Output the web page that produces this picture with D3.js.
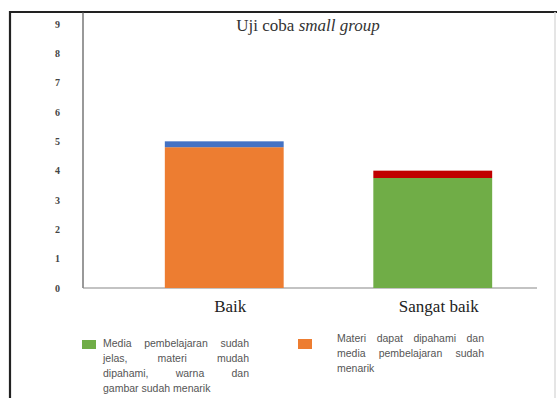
<!DOCTYPE html>
<html>
<head>
<meta charset="utf-8">
<script src="https://cdn.jsdelivr.net/npm/d3@7"></script>
<style>
  html, body { margin: 0; padding: 0; background: #fff; }
  svg { display: block; }
</style>
</head>
<body>
<svg id="chart" width="558" height="398"></svg>
<script>
// ---- data ----
const categories = ["Baik", "Sangat baik"];
const orangeValues = [4.8, 0];
const greenValues  = [0, 3.75];
const blueValues   = [0.2, 0];
const redValues    = [0, 0.25];
const yTicks = [0, 1, 2, 3, 4, 5, 6, 7, 8, 9];
const titleMain = "Uji coba ";
const titleItalic = "small group";
const legendGreenLines = ["Media pembelajaran sudah", "jelas, materi mudah", "dipahami, warna dan", "gambar sudah menarik"];
const legendOrangeLines = ["Materi dapat dipahami dan", "media pembelajaran sudah", "menarik"];

const colors = { orange: "#ED7D31", green: "#70AD47", blue: "#4472C4", red: "#C00000" };

const svg = d3.select("#chart");

// frame
svg.append("line").attr("x1", 10).attr("x2", 10).attr("y1", 11).attr("y2", 398)
  .attr("stroke", "#222").attr("stroke-width", 2.2);
svg.append("line").attr("x1", 9).attr("x2", 557).attr("y1", 12).attr("y2", 12)
  .attr("stroke", "#222").attr("stroke-width", 2.2);
svg.append("line").attr("x1", 555).attr("x2", 555).attr("y1", 12).attr("y2", 398)
  .attr("stroke", "#ddd").attr("stroke-width", 1.5);

// scales
const y = d3.scaleLinear().domain([0, 9]).range([288, 24]);
const x = d3.scaleBand().domain(categories).range([120, 537]).paddingInner(0.43).paddingOuter(0.215);

// y axis line
svg.append("line").attr("x1", 83).attr("x2", 83).attr("y1", 12).attr("y2", 288)
  .attr("stroke", "#555").attr("stroke-width", 1.2);
// baseline
svg.append("line").attr("x1", 83).attr("x2", 537).attr("y1", 288).attr("y2", 288)
  .attr("stroke", "#888").attr("stroke-width", 1.2);

// y tick labels
const yAxis = d3.axisLeft(y).tickValues(yTicks).tickSize(0).tickFormat(d3.format("d"));
const yg = svg.append("g").attr("transform", "translate(62,0)").call(yAxis);
yg.select(".domain").remove();
yg.selectAll("text").attr("font-family", "Liberation Serif, serif").attr("font-size", 10)
  .attr("font-weight", "bold").attr("fill", "#444").attr("x", -2);

// stacked bars
const rows = categories.map((c, i) => ({ cat: c, orange: orangeValues[i], green: greenValues[i], blue: blueValues[i], red: redValues[i] }));
const stack = d3.stack().keys(["orange", "green", "blue", "red"]);
const stacked = stack(rows);
svg.append("g").selectAll("g").data(stacked).join("g")
  .attr("fill", d => colors[d.key])
  .selectAll("rect").data(d => d.filter(p => p[1] - p[0] > 0)).join("rect")
  .attr("x", d => x(d.data.cat))
  .attr("width", x.bandwidth())
  .attr("y", d => y(d[1]))
  .attr("height", d => y(d[0]) - y(d[1]));

// x axis labels
const xAxis = d3.axisBottom(x).tickSize(0);
const xg = svg.append("g").attr("transform", "translate(6,300)").call(xAxis);
xg.select(".domain").remove();
xg.selectAll("text").attr("font-family", "Liberation Serif, serif").attr("font-size", 17)
  .attr("fill", "#222").attr("dy", "0.68em").attr("y", 0);

// title
const t = svg.append("text").attr("x", 308).attr("y", 31).attr("text-anchor", "middle")
  .attr("font-family", "Liberation Serif, serif").attr("font-size", 17).attr("fill", "#333");
t.append("tspan").text(titleMain);
t.append("tspan").attr("font-style", "italic").text(titleItalic);

// legend with justified text
function justifiedBlock(lines, x0, width, y0, lh) {
  const g = svg.append("g");
  const style = s => s.attr("font-family", "Liberation Sans, sans-serif").attr("font-size", 10.5).attr("fill", "#555");
  lines.forEach((line, i) => {
    const yy = y0 + i * lh;
    const words = line.split(" ");
    const last = i === lines.length - 1;
    if (last || words.length < 2) {
      style(g.append("text").attr("x", x0).attr("y", yy).text(line));
    } else {
      const nodes = words.map(w => style(g.append("text").attr("y", yy).text(w)));
      const widths = nodes.map(n => n.node().getComputedTextLength());
      const total = d3.sum(widths);
      const gap = (width - total) / (words.length - 1);
      let cx = x0;
      nodes.forEach((n, k) => { n.attr("x", cx); cx += widths[k] + gap; });
    }
  });
}
svg.append("rect").attr("x", 82).attr("y", 340).attr("width", 14).attr("height", 9).attr("fill", colors.green);
justifiedBlock(legendGreenLines, 103, 146, 347, 15);
svg.append("rect").attr("x", 298).attr("y", 339).attr("width", 14).attr("height", 10).attr("fill", colors.orange);
justifiedBlock(legendOrangeLines, 337, 147, 342, 15);
</script>
</body>
</html>
